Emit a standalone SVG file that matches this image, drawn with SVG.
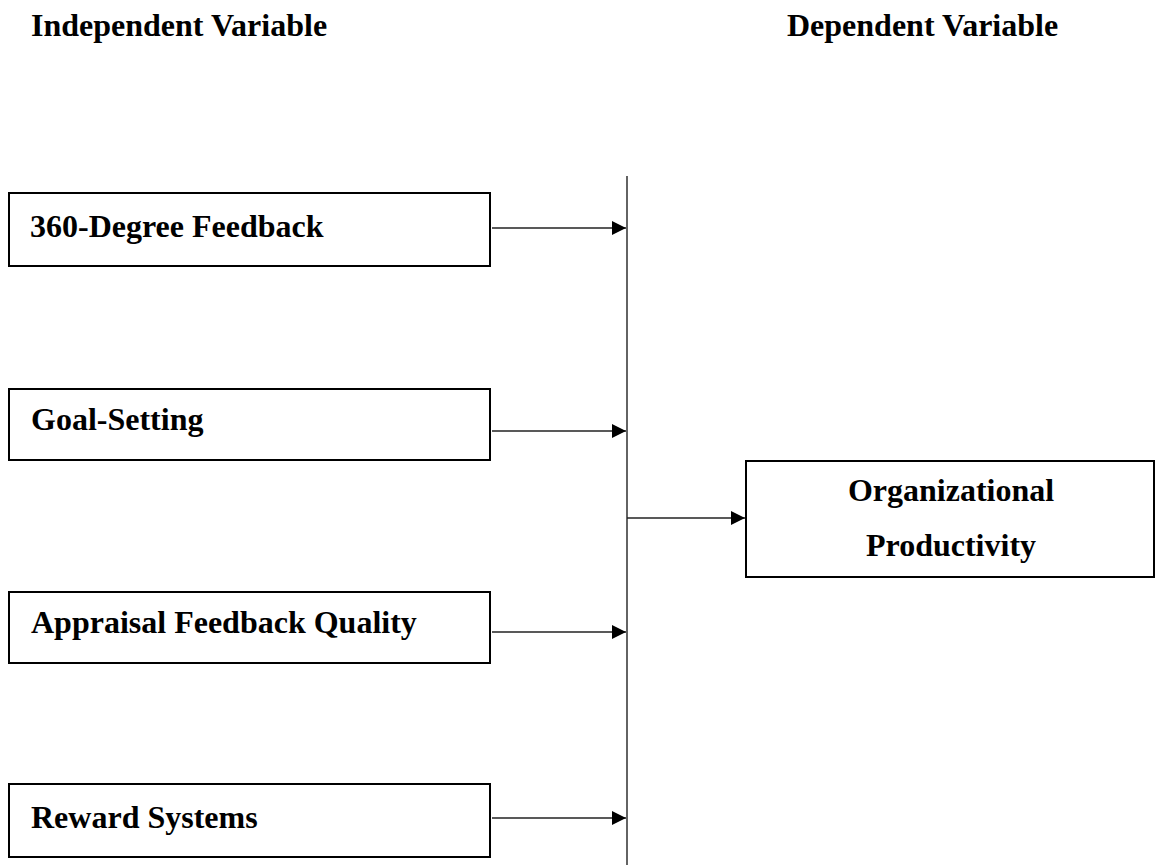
<svg xmlns="http://www.w3.org/2000/svg" width="1157" height="865" viewBox="0 0 1157 865">
<style>
.t{font-family:"Liberation Serif","Times New Roman",serif;font-weight:bold;font-size:32px;fill:#000}
.box{fill:#fff;stroke:#000;stroke-width:2}
.ln{stroke:#222;stroke-width:1.4;fill:none}
</style>
<defs>
<marker id="ah" viewBox="0 0 10 10" refX="10" refY="5" markerWidth="15" markerHeight="14" markerUnits="userSpaceOnUse" orient="auto">
<path d="M0,0 L10,5 L0,10 Z" fill="#000"/>
</marker>
</defs>
<rect width="1157" height="865" fill="#fff"/>
<text class="t" x="31" y="36">Independent Variable</text>
<text class="t" x="787" y="36">Dependent Variable</text>
<g id="connectors">
<line class="ln" x1="627" y1="176" x2="627" y2="865"/>
<line class="ln" x1="492" y1="228" x2="626" y2="228" marker-end="url(#ah)"/>
<line class="ln" x1="492" y1="431" x2="626" y2="431" marker-end="url(#ah)"/>
<line class="ln" x1="492" y1="632" x2="626" y2="632" marker-end="url(#ah)"/>
<line class="ln" x1="492" y1="818" x2="626" y2="818" marker-end="url(#ah)"/>
<line class="ln" x1="627" y1="518" x2="745" y2="518" marker-end="url(#ah)"/>
</g>
<g id="n1"><rect class="box" x="9" y="193" width="481" height="73"/><text class="t" x="30" y="237">360-Degree Feedback</text></g>
<g id="n2"><rect class="box" x="9" y="389" width="481" height="71"/><text class="t" x="31" y="430">Goal-Setting</text></g>
<g id="n3"><rect class="box" x="9" y="592" width="481" height="71"/><text class="t" x="31" y="633">Appraisal Feedback Quality</text></g>
<g id="n4"><rect class="box" x="9" y="784" width="481" height="73"/><text class="t" x="31" y="828">Reward Systems</text></g>
<g id="n5"><rect class="box" x="746" y="461" width="408" height="116"/><text class="t" x="951" y="501" text-anchor="middle">Organizational</text><text class="t" x="951" y="556" text-anchor="middle">Productivity</text></g>
</svg>
